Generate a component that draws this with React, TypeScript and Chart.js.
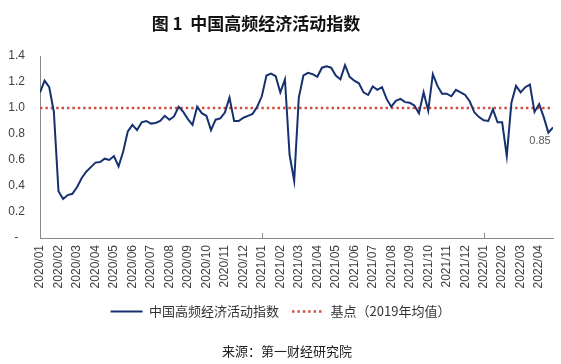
import React, { useEffect, useRef } from 'react';
import { Chart, registerables } from 'chart.js';

Chart.register(...registerables);

const TITLE = '图 1  中国高频经济活动指数';
const SOURCE = '来源：第一财经研究院';
const SERIES_NAME = '中国高频经济活动指数';
const BASE_NAME = '基点（2019年均值）';
const LAST_LABEL = '0.85';

const MONTH_LABELS = [
  '2020/01', '2020/02', '2020/03', '2020/04', '2020/05', '2020/06', '2020/07',
  '2020/08', '2020/09', '2020/10', '2020/11', '2020/12', '2021/01', '2021/02',
  '2021/03', '2021/04', '2021/05', '2021/06', '2021/07', '2021/08', '2021/09',
  '2021/10', '2021/11', '2021/12', '2022/01', '2022/02', '2022/03', '2022/04',
];
const YEAR_STARTS = ['2021/01', '2022/01'];

// one value per quarter month, starting at 2020/01
const STEP = 0.25;
const INDEX_VALUES = [
  1.12, 1.21, 1.16, 0.97, 0.36, 0.30, 0.33, 0.34, 0.39, 0.46,
  0.51, 0.545, 0.58, 0.585, 0.61, 0.60, 0.63, 0.55, 0.665, 0.82,
  0.87, 0.83, 0.89, 0.90, 0.88, 0.885, 0.90, 0.94, 0.91, 0.935,
  1.01, 0.97, 0.915, 0.87, 1.01, 0.96, 0.94, 0.83, 0.91, 0.92,
  0.965, 1.08, 0.90, 0.90, 0.925, 0.94, 0.955, 1.01, 1.09, 1.25,
  1.265, 1.245, 1.12, 1.22, 0.64, 0.44, 1.08, 1.25, 1.27, 1.26,
  1.24, 1.31, 1.32, 1.31, 1.25, 1.22, 1.33, 1.24, 1.21, 1.19,
  1.12, 1.10, 1.165, 1.14, 1.16, 1.07, 1.01, 1.055, 1.07, 1.045,
  1.04, 1.02, 0.96, 1.12, 0.98, 1.26, 1.17, 1.11, 1.11, 1.09,
  1.14, 1.12, 1.10, 1.05, 0.965, 0.93, 0.905, 0.90, 0.99, 0.89,
  0.89, 0.63, 1.04, 1.17, 1.12, 1.16, 1.18, 0.97, 1.03, 0.93,
  0.81, 0.85,
];
const BASE_VALUE = 1.0;

const Y_MIN = 0;
const Y_MAX = 1.4;
const Y_STEP = 0.2;

const LINE_COLOR = '#16316f';
const BASE_COLOR = '#cf4a40';
const TEXT_COLOR = '#404040';
const AXIS_COLOR = '#8a8a8a';
const TICK_FONT = 'Arial, "Liberation Sans", sans-serif';

const decorPlugin = {
  id: 'decor',
  afterDraw(chart: any) {
    const { ctx, chartArea } = chart;
    const xs = chart.scales.x;
    ctx.save();
    ctx.strokeStyle = AXIS_COLOR;
    ctx.lineWidth = 1;
    YEAR_STARTS.forEach((lab) => {
      const px = Math.round(xs.getPixelForValue(MONTH_LABELS.indexOf(lab))) + 0.5;
      ctx.beginPath();
      ctx.moveTo(px, chartArea.bottom - 5);
      ctx.lineTo(px, chartArea.bottom);
      ctx.stroke();
    });
    const meta = chart.getDatasetMeta(0);
    const pt = meta.data[meta.data.length - 1];
    if (pt) {
      ctx.font = '11px ' + TICK_FONT;
      ctx.fillStyle = '#595959';
      ctx.textAlign = 'center';
      ctx.textBaseline = 'middle';
      ctx.fillText(LAST_LABEL, pt.x - 13, pt.y + 13);
    }
    ctx.fillStyle = '#111';
    ctx.font = 'bold 17px "Noto Sans CJK SC", sans-serif';
    ctx.textAlign = 'center';
    ctx.textBaseline = 'middle';
    ctx.fillText(TITLE, 256, 24);
    ctx.fillStyle = '#222';
    ctx.font = '13px "Noto Sans CJK SC", sans-serif';
    ctx.fillText(SOURCE, 287, 351);
    ctx.restore();
  },
};

export default function App() {
  const ref = useRef<HTMLCanvasElement | null>(null);

  useEffect(() => {
    document.body.style.margin = '0';
    const canvas = ref.current;
    if (!canvas) return;
    const indexPoints = INDEX_VALUES.map((v, i) => ({ x: i * STEP, y: v }));
    const basePoints = INDEX_VALUES.map((_, i) => ({ x: i * STEP, y: BASE_VALUE }));
    const chart = new Chart(canvas, {
      type: 'line',
      data: {
        datasets: [
          {
            label: SERIES_NAME,
            data: indexPoints,
            borderColor: LINE_COLOR,
            backgroundColor: LINE_COLOR,
            borderWidth: 2,
            pointRadius: 0,
            tension: 0,
          },
          {
            label: BASE_NAME,
            data: basePoints,
            borderColor: BASE_COLOR,
            backgroundColor: BASE_COLOR,
            borderWidth: 2.4,
            borderDash: [2.4, 3],
            pointRadius: 0,
            tension: 0,
          },
        ],
      },
      options: {
        responsive: false,
        animation: false,
        devicePixelRatio: 1,
        layout: { padding: { top: 56, left: 8, right: 8, bottom: 36 } },
        plugins: {
          title: { display: false },
          tooltip: { enabled: false },
          legend: {
            position: 'bottom',
            labels: {
              usePointStyle: true,
              pointStyleWidth: 32,
              padding: 13,
              color: '#333',
              font: { family: '"Noto Sans CJK SC", sans-serif', size: 13 },
              generateLabels: (ch: any) =>
                ch.data.datasets.map((ds: any, i: number) => ({
                  text: ds.label,
                  strokeStyle: ds.borderColor,
                  fillStyle: ds.borderColor,
                  lineWidth: ds.borderWidth,
                  lineDash: ds.borderDash || [],
                  lineCap: 'butt',
                  pointStyle: 'line',
                  hidden: false,
                  datasetIndex: i,
                  fontColor: '#333',
                })),
            },
          },
        },
        scales: {
          x: {
            type: 'linear',
            min: 0,
            max: (INDEX_VALUES.length - 1) * STEP,
            grid: { display: false, drawTicks: false },
            border: { display: true, color: AXIS_COLOR, width: 1 },
            afterFit: (s: any) => {
              s.paddingLeft = 0;
              s.paddingRight = 0;
              s.height = 54;
              s._computeLabelArea = () => undefined;
            },
            ticks: {
              stepSize: 1,
              includeBounds: false,
              autoSkip: false,
              maxRotation: 90,
              minRotation: 90,
              padding: 7,
              color: TEXT_COLOR,
              font: { family: TICK_FONT, size: 12 },
              callback: (v: any) => (Number.isInteger(v) ? MONTH_LABELS[v] ?? '' : ''),
            },
          },
          y: {
            min: Y_MIN,
            max: Y_MAX,
            grid: { display: false, drawTicks: false },
            border: { display: true, color: AXIS_COLOR, width: 1 },
            afterFit: (s: any) => {
              s.width = 32;
              s._computeLabelArea = () => undefined;
            },
            ticks: {
              stepSize: Y_STEP,
              padding: 15,
              color: TEXT_COLOR,
              font: { family: TICK_FONT, size: 12 },
              callback: (v: any) => (Math.abs(v) < 1e-9 ? '-  ' : Number(v).toFixed(1)),
            },
          },
        },
      },
      plugins: [decorPlugin],
    });
    return () => chart.destroy();
  }, []);

  return (
    <div style={{ width: 561, height: 364, background: '#fff' }}>
      <canvas ref={ref} width={561} height={364} style={{ display: 'block' }} />
    </div>
  );
}
